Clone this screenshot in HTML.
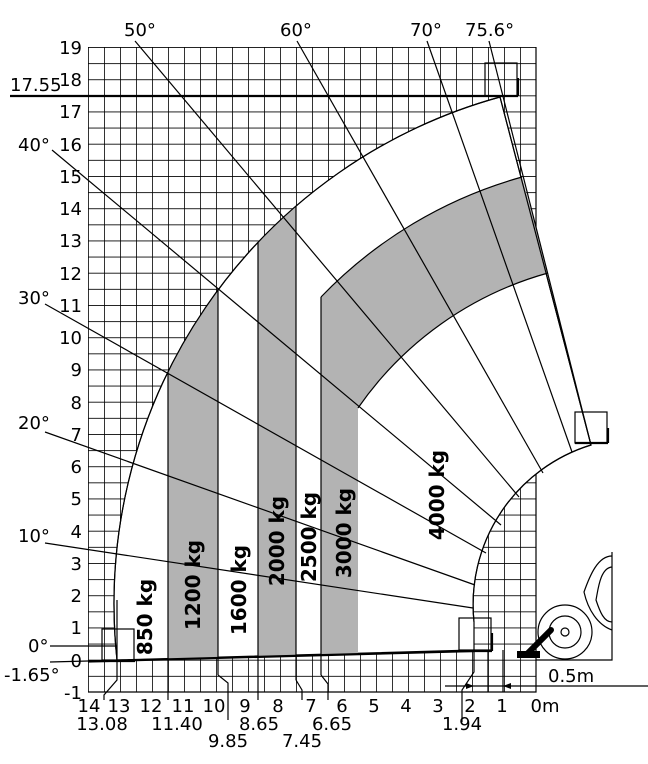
<!DOCTYPE html>
<html><head><meta charset="utf-8"><style>
html,body{margin:0;padding:0;background:#fff;width:648px;height:764px;overflow:hidden}
svg{display:block}
text{font-family:"DejaVu Sans","Liberation Sans",sans-serif;font-size:18px;fill:#000}
.kg{font-weight:bold;font-size:20px}
</style></head><body>
<svg width="648" height="764" viewBox="0 0 648 764" xmlns="http://www.w3.org/2000/svg">
<defs>
<pattern id="p" patternUnits="userSpaceOnUse" x="88" y="47" width="16" height="16.125">
<path d="M0,0 H16 M0,0 V16.125" stroke="#000" stroke-width="1.6" fill="none"/>
</pattern>
</defs>
<rect x="88" y="47" width="448" height="645" fill="url(#p)"/>
<path d="M536,47 V692 H88" stroke="#000" stroke-width="1.2" fill="none"/>
<!-- envelope white -->
<path d="M117,660 A526,526 0 0 1 500,97 L591,445 A167,167 0 0 0 474,622 L474,650 Z" fill="#fff" stroke="#000" stroke-width="1.2"/>
<!-- gray areas -->
<g fill="#b3b3b3" stroke="none">
<path d="M168,659.4 L168,372 A526,526 0 0 1 218,290 L218,658 Z"/>
<path d="M258,657.2 L258,242 A526,526 0 0 1 296,206 L296,656 Z"/>
<path d="M321,655.3 L321,297 A443,443 0 0 1 522,177 L548,273 A343,343 0 0 0 358,408 L358,654.3 Z"/>
</g>
<g fill="none" stroke="#000" stroke-width="1.2">
<path d="M321,297 A443,443 0 0 1 522,177"/>
<path d="M548,273 A343,343 0 0 0 358,408"/>
<path d="M117,660 A526,526 0 0 1 500,97 L591,445 A167,167 0 0 0 474,622"/>
<line x1="168" y1="372" x2="168" y2="700"/>
<line x1="258" y1="242" x2="258" y2="700"/>
<line x1="296" y1="206" x2="296" y2="680"/><polyline points="296,680 302,690 302,700"/>
<line x1="321" y1="297" x2="321" y2="675"/><polyline points="321,675 328,684 328,700"/>
<line x1="218" y1="290" x2="218" y2="675"/><polyline points="218,675 228,683 228,720"/>
<polyline points="117,660 117,680 104,695 104,700"/>
<polyline points="474,650 474,672 462,690 462,722"/>
<line x1="135" y1="41" x2="519" y2="497"/>
<line x1="297" y1="41" x2="543" y2="473"/>
<line x1="427" y1="41" x2="572" y2="452"/>
<line x1="489" y1="41" x2="591" y2="445"/>
<line x1="52" y1="150" x2="501" y2="525"/>
<line x1="45" y1="304" x2="486" y2="553"/>
<line x1="45" y1="432" x2="475" y2="585"/>
<line x1="45" y1="543" x2="473" y2="608"/>
<line x1="50" y1="646" x2="117" y2="646"/>
<line x1="50" y1="662" x2="88" y2="661"/>
<rect x="102" y="629" width="32" height="31"/>
<rect x="485" y="63" width="32" height="33"/>
<rect x="575" y="412" width="32" height="31"/>
<rect x="459" y="618" width="32" height="32"/>
<line x1="117" y1="600" x2="117" y2="660"/>
<circle cx="565" cy="632" r="4"/><circle cx="565" cy="632" r="16"/><circle cx="565" cy="632" r="27"/>
<polyline points="612,552 612,660 536,660"/>
<path d="M612,556 C598,556 590,575 584,592 C588,610 598,625 612,630"/>
<path d="M612,567 C600,568 598,590 596,600 C600,612 604,622 612,622"/>
<line x1="445" y1="686" x2="648" y2="686"/>
<line x1="488" y1="650" x2="488" y2="692"/>
<line x1="503" y1="650" x2="503" y2="692"/>
</g>
<g stroke="#000" stroke-width="2.2" fill="none">
<line x1="10" y1="96" x2="518" y2="96"/>
<line x1="518" y1="78" x2="518" y2="96"/>
<line x1="88" y1="661.5" x2="474" y2="651"/>
<line x1="88" y1="661" x2="135" y2="661"/>
<line x1="608" y1="428" x2="608" y2="443"/><line x1="575" y1="443" x2="608" y2="443"/>
<line x1="492" y1="633" x2="492" y2="651"/><line x1="458" y1="651" x2="492" y2="651"/>
</g>
<line x1="527" y1="654" x2="551" y2="630" stroke="#000" stroke-width="6" stroke-linecap="round"/>
<rect x="517" y="651" width="23" height="7" fill="#000"/>
<polygon points="474,686 466,683 466,689" fill="#000"/>
<polygon points="503,686 511,683 511,689" fill="#000"/>
<g text-anchor="end">
<text x="82" y="54">19</text><text x="82" y="86">18</text><text x="82" y="118">17</text>
<text x="82" y="151">16</text><text x="82" y="183">15</text><text x="82" y="215">14</text>
<text x="82" y="247">13</text><text x="82" y="280">12</text><text x="82" y="312">11</text>
<text x="82" y="344">10</text><text x="82" y="376">9</text><text x="82" y="409">8</text>
<text x="82" y="441">7</text><text x="82" y="473">6</text><text x="82" y="505">5</text>
<text x="82" y="538">4</text><text x="82" y="570">3</text><text x="82" y="602">2</text>
<text x="82" y="634">1</text><text x="82" y="667">0</text><text x="82" y="699">-1</text>
</g>
<text x="10" y="91">17.55</text>
<text x="124" y="36">50°</text><text x="280" y="36">60°</text><text x="410" y="36">70°</text><text x="465" y="36">75.6°</text>
<text x="18" y="151">40°</text><text x="18" y="304">30°</text><text x="18" y="429">20°</text>
<text x="18" y="542">10°</text><text x="28" y="652">0°</text><text x="4" y="681">-1.65°</text>
<g text-anchor="middle">
<text x="89" y="712">14</text><text x="119" y="712">13</text><text x="151" y="712">12</text>
<text x="183" y="712">11</text><text x="214" y="712">10</text><text x="245" y="712">9</text>
<text x="278" y="712">8</text><text x="311" y="712">7</text><text x="342" y="712">6</text>
<text x="374" y="712">5</text><text x="406" y="712">4</text><text x="438" y="712">3</text>
<text x="470" y="712">2</text><text x="502" y="712">1</text><text x="545" y="712">0m</text>
<text x="102" y="730">13.08</text><text x="177" y="730">11.40</text><text x="259" y="730">8.65</text>
<text x="332" y="730">6.65</text><text x="462" y="730">1.94</text>
<text x="228" y="747">9.85</text><text x="302" y="747">7.45</text>
</g>
<text x="548" y="682">0.5m</text>
<g text-anchor="middle">
<text class="kg" transform="translate(152,617) rotate(-90)">850 kg</text>
<text class="kg" transform="translate(200,585) rotate(-90)">1200 kg</text>
<text class="kg" transform="translate(246,590) rotate(-90)">1600 kg</text>
<text class="kg" transform="translate(284,541) rotate(-90)">2000 kg</text>
<text class="kg" transform="translate(316,537) rotate(-90)">2500 kg</text>
<text class="kg" transform="translate(351,533) rotate(-90)">3000 kg</text>
<text class="kg" transform="translate(444,495) rotate(-90)">4000 kg</text>
</g>
</svg>
</body></html>
